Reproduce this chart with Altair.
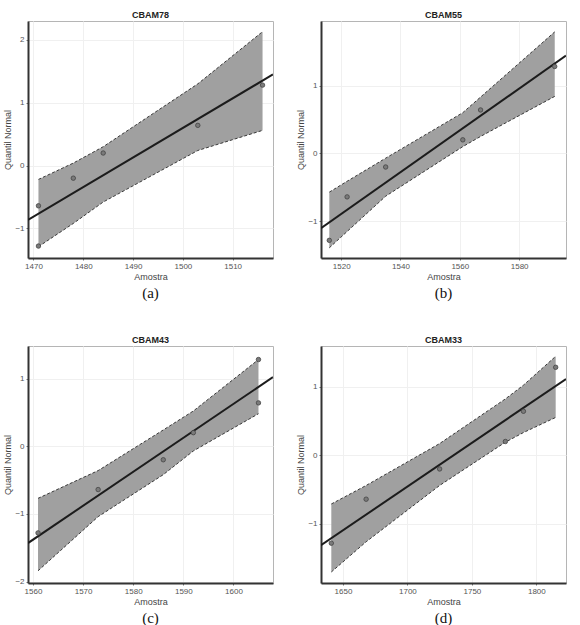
import altair as alt
import pandas as pd

# ---- data ----
names = ["CBAM78", "CBAM55", "CBAM43", "CBAM33"]
captions = ["(a)", "(b)", "(c)", "(d)"]
quantis = [-1.28, -0.64, -0.20, 0.20, 0.64, 1.28]

a_sample = [1471, 1471, 1478, 1484, 1503, 1516]
a_band_x = [1471, 1478, 1484, 1503, 1516]
a_band_lo = [-1.29, -0.92, -0.58, 0.24, 0.56]
a_band_hi = [-0.22, 0.04, 0.30, 1.30, 2.13]
a_line_x = [1468.9, 1518.1]
a_line_y = [-0.865, 1.45]
a_xdom = [1468.9, 1518.1]
a_ydom = [-1.47, 2.30]
a_xticks = [1470, 1480, 1490, 1500, 1510]
a_yticks = [-1, 0, 1, 2]

b_sample = [1516, 1522, 1535, 1561, 1567, 1592]
b_band_x = [1516, 1522, 1535, 1561, 1567, 1592]
b_band_lo = [-1.39, -1.15, -0.63, 0.10, 0.25, 0.84]
b_band_hi = [-0.57, -0.41, -0.07, 0.60, 0.83, 1.79]
b_line_x = [1513.2, 1595.8]
b_line_y = [-1.10, 1.44]
b_xdom = [1513.2, 1595.8]
b_ydom = [-1.54, 1.95]
b_xticks = [1520, 1540, 1560, 1580]
b_yticks = [-1, 0, 1]

c_sample = [1561, 1573, 1586, 1592, 1605, 1605]
c_band_x = [1561, 1573, 1586, 1592, 1605]
c_band_lo = [-1.84, -1.04, -0.42, -0.07, 0.48]
c_band_hi = [-0.77, -0.36, 0.24, 0.52, 1.28]
c_line_x = [1559.0, 1607.9]
c_line_y = [-1.43, 1.02]
c_xdom = [1559.0, 1607.9]
c_ydom = [-2.02, 1.48]
c_xticks = [1560, 1570, 1580, 1590, 1600]
c_yticks = [-2, -1, 0, 1]
c_quantis = [-1.28, -0.64, -0.20, 0.20, 1.28, 0.64]

d_sample = [1641, 1668, 1725, 1776, 1790, 1815]
d_band_x = [1641, 1668, 1725, 1776, 1790, 1815]
d_band_lo = [-1.70, -1.26, -0.44, 0.19, 0.33, 0.55]
d_band_hi = [-0.71, -0.44, 0.17, 0.82, 1.02, 1.44]
d_line_x = [1633.0, 1823.0]
d_line_y = [-1.31, 1.11]
d_xdom = [1633.0, 1823.0]
d_ydom = [-1.86, 1.59]
d_xticks = [1650, 1700, 1750, 1800]
d_yticks = [-1, 0, 1]

W, H = 245, 237


def panel(name, caption, sample, quant, bx, blo, bhi, lx, ly, xdom, ydom, xticks, yticks):
    xs = alt.Scale(domain=xdom, nice=False, zero=False)
    ys = alt.Scale(domain=ydom, nice=False, zero=False)
    xax = alt.Axis(values=xticks, format="d", title="Amostra")
    yax = alt.Axis(values=yticks, format="d", title="Quantil Normal")

    band = pd.DataFrame({"x": bx, "lo": blo, "hi": bhi})
    edges = pd.concat([
        pd.DataFrame({"x": bx, "y": blo, "edge": "lo"}),
        pd.DataFrame({"x": bx, "y": bhi, "edge": "hi"}),
    ])
    pts = pd.DataFrame({"x": sample, "y": quant})
    line = pd.DataFrame({"x": lx, "y": ly})
    txt = pd.DataFrame({"t": [name], "c": [caption]})

    area = alt.Chart(band).mark_area(color="#a0a0a0", opacity=1).encode(
        x=alt.X("x:Q", scale=xs, axis=xax),
        y=alt.Y("lo:Q", scale=ys, axis=yax),
        y2="hi:Q",
    )
    edge = alt.Chart(edges).mark_line(color="#3a3a3a", strokeDash=[3, 2], strokeWidth=1).encode(
        x="x:Q", y="y:Q", detail="edge:N"
    )
    reg = alt.Chart(line).mark_line(color="#1c1c1c", strokeWidth=2, clip=True).encode(
        x="x:Q", y="y:Q"
    )
    dots = alt.Chart(pts).mark_point(
        filled=True, color="#7a7a7a", stroke="#444444", strokeWidth=0.8, size=20, opacity=1
    ).encode(x="x:Q", y="y:Q")
    title = alt.Chart(txt).mark_text(
        font="Liberation Sans", fontSize=9, fontWeight="bold", color="#222"
    ).encode(x=alt.value(W / 2), y=alt.value(-6), text="t:N")
    cap = alt.Chart(txt).mark_text(
        font="Liberation Serif", fontSize=15, color="#111"
    ).encode(x=alt.value(W / 2), y=alt.value(H + 35), text="c:N")

    return alt.layer(area, edge, reg, dots, title, cap).properties(width=W, height=H)


pa = panel(names[0], captions[0], a_sample, quantis, a_band_x, a_band_lo, a_band_hi,
           a_line_x, a_line_y, a_xdom, a_ydom, a_xticks, a_yticks)
pb = panel(names[1], captions[1], b_sample, quantis, b_band_x, b_band_lo, b_band_hi,
           b_line_x, b_line_y, b_xdom, b_ydom, b_xticks, b_yticks)
pc = panel(names[2], captions[2], c_sample, c_quantis, c_band_x, c_band_lo, c_band_hi,
           c_line_x, c_line_y, c_xdom, c_ydom, c_xticks, c_yticks)
pd_ = panel(names[3], captions[3], d_sample, quantis, d_band_x, d_band_lo, d_band_hi,
            d_line_x, d_line_y, d_xdom, d_ydom, d_xticks, d_yticks)

chart = alt.concat(
    pa, pb, pc, pd_, columns=2, spacing={"row": 88, "column": 48}, bounds="flush"
).properties(
    padding={"left": 3, "top": 10, "right": 5, "bottom": 5},
    background="white",
).configure_view(
    stroke="#b5b5b5", strokeWidth=1
).configure_axis(
    domainColor="#333333", domainWidth=2,
    gridColor="#f0f0f0", gridWidth=1,
    labelColor="#555555", labelFontSize=8, labelFont="Liberation Sans", labelPadding=2,
    titleColor="#444444", titleFontSize=9, titleFont="Liberation Sans", titleFontWeight="normal",
    titlePadding=2, tickColor="#777777", tickSize=2,
)

chart.save("out.html", embed_options={"renderer": "svg", "actions": False})
